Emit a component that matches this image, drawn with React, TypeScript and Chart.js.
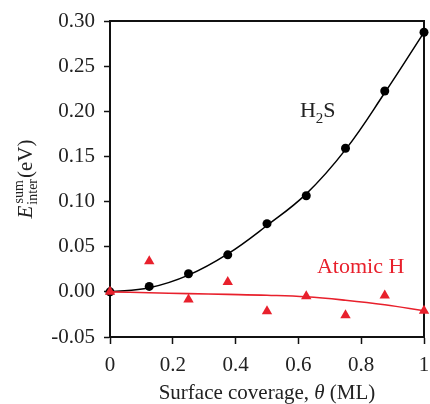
import React, { useEffect, useRef } from 'react';
import { Chart, registerables } from 'chart.js';

Chart.register(...registerables);

// ---- data ----
const coverage = [0, 0.125, 0.25, 0.375, 0.5, 0.625, 0.75, 0.875, 1];
const h2sValues = [0, 0.006, 0.02, 0.041, 0.0755, 0.1065, 0.159, 0.2225, 0.2875];
const h2sFit = [0, 0.0045, 0.0185, 0.042, 0.0735, 0.1085, 0.1575, 0.2205, 0.2875];
const atomicHValues = [0, 0.034, -0.0085, 0.011, -0.0215, -0.005, -0.026, -0.004, -0.021];
const atomicHFit = [0, -0.001, -0.002, -0.0028, -0.0038, -0.0055, -0.0093, -0.0143, -0.021];

const xTickValues = [0, 0.2, 0.4, 0.6, 0.8, 1];
const xTickLabels = ['0', '0.2', '0.4', '0.6', '0.8', '1'];
const yTickValues = [-0.05, 0, 0.05, 0.1, 0.15, 0.2, 0.25, 0.3];
const yTickLabels = ['-0.05', '0.00', '0.05', '0.10', '0.15', '0.20', '0.25', '0.30'];

const h2sLabelPos = { x: 0.605, y: 0.194 };
const atomicHLabelPos = { x: 0.659, y: 0.0214 };

const RED = '#e8202c';
const FONT = '"Liberation Serif", "DejaVu Serif", serif';

const toPts = (xs: number[], ys: number[]) => xs.map((x, i) => ({ x, y: ys[i] }));

const zeroPad = (s: any) => {
  s.paddingLeft = 0;
  s.paddingRight = 0;
  s.paddingTop = 0;
  s.paddingBottom = 0;
};

const decorPlugin = {
  id: 'decor',
  beforeDatasetsDraw(chart: any) {
    const { ctx, chartArea: a } = chart;
    ctx.save();
    ctx.strokeStyle = '#111';
    ctx.lineWidth = 2;
    ctx.beginPath();
    ctx.moveTo(a.left, a.top);
    ctx.lineTo(a.right, a.top);
    ctx.lineTo(a.right, a.bottom);
    ctx.stroke();
    ctx.restore();
  },
  afterDraw(chart: any) {
    const { ctx, chartArea: a, scales } = chart;
    const xs = scales.x;
    const ys = scales.y;
    ctx.save();
    ctx.textBaseline = 'alphabetic';
    ctx.textAlign = 'left';

    // H2S label
    let px = xs.getPixelForValue(h2sLabelPos.x);
    let py = ys.getPixelForValue(h2sLabelPos.y);
    ctx.fillStyle = '#222';
    ctx.font = `22px ${FONT}`;
    ctx.fillText('H', px, py);
    px += ctx.measureText('H').width;
    ctx.font = `15px ${FONT}`;
    ctx.fillText('2', px, py + 6);
    px += ctx.measureText('2').width;
    ctx.font = `22px ${FONT}`;
    ctx.fillText('S', px, py);

    // Atomic H label
    px = xs.getPixelForValue(atomicHLabelPos.x);
    py = ys.getPixelForValue(atomicHLabelPos.y);
    ctx.fillStyle = RED;
    ctx.font = `22px ${FONT}`;
    ctx.fillText('Atomic H', px, py);

    // X axis title
    ctx.fillStyle = '#222';
    const p1 = 'Surface coverage, ';
    const p2 = '\u03b8';
    const p3 = ' (ML)';
    ctx.font = `21px ${FONT}`;
    const w1 = ctx.measureText(p1).width;
    const w3 = ctx.measureText(p3).width;
    ctx.font = `italic 21px ${FONT}`;
    const w2 = ctx.measureText(p2).width;
    const total = w1 + w2 + w3;
    let tx = (a.left + a.right) / 2 - total / 2;
    const ty = 399;
    ctx.font = `21px ${FONT}`;
    ctx.fillText(p1, tx, ty);
    tx += w1;
    ctx.font = `italic 21px ${FONT}`;
    ctx.fillText(p2, tx, ty);
    tx += w2;
    ctx.font = `21px ${FONT}`;
    ctx.fillText(p3, tx, ty);

    // Y axis title (rotated)
    ctx.translate(32, (a.top + a.bottom) / 2);
    ctx.rotate(-Math.PI / 2);
    ctx.font = `italic 21px ${FONT}`;
    const wE = ctx.measureText('E').width;
    ctx.font = `14px ${FONT}`;
    const wSum = ctx.measureText('sum').width;
    const wInter = ctx.measureText('inter').width;
    const wScript = Math.max(wSum, wInter);
    ctx.font = `21px ${FONT}`;
    const wEv = ctx.measureText('(eV)').width;
    const tot = wE + 1 + wScript + 1 + wEv;
    let rx = -tot / 2;
    ctx.font = `italic 21px ${FONT}`;
    ctx.fillText('E', rx, 0);
    rx += wE + 1;
    ctx.font = `14px ${FONT}`;
    ctx.fillText('sum', rx + (wScript - wSum) / 2, -9);
    ctx.fillText('inter', rx, 5);
    rx += wScript + 1;
    ctx.font = `21px ${FONT}`;
    ctx.fillText('(eV)', rx, 0);
    ctx.restore();
  },
};

export default function App() {
  const ref = useRef<HTMLCanvasElement | null>(null);

  useEffect(() => {
    if (!ref.current) return;
    const chart = new Chart(ref.current, {
      type: 'scatter',
      data: {
        datasets: [
          {
            label: 'Atomic H',
            data: toPts(coverage, atomicHValues),
            pointStyle: 'triangle',
            pointRadius: 6,
            pointBackgroundColor: RED,
            pointBorderColor: RED,
            pointBorderWidth: 0,
            showLine: false,
            clip: false,
          } as any,
          {
            label: 'Atomic H fit',
            data: toPts(coverage, atomicHFit),
            showLine: true,
            borderColor: RED,
            borderWidth: 1.6,
            pointRadius: 0,
            tension: 0.4,
            clip: false,
          } as any,
          {
            label: 'H2S',
            data: toPts(coverage, h2sValues),
            pointStyle: 'circle',
            pointRadius: 4.5,
            pointBackgroundColor: '#000',
            pointBorderColor: '#000',
            pointBorderWidth: 0,
            showLine: false,
            clip: false,
          } as any,
          {
            label: 'H2S fit',
            data: toPts(coverage, h2sFit),
            showLine: true,
            borderColor: '#000',
            borderWidth: 1.5,
            pointRadius: 0,
            tension: 0.4,
            clip: false,
          } as any,
        ],
      },
      options: {
        animation: false,
        responsive: false,
        layout: { padding: { top: 21, right: 5, left: 0, bottom: 0 } },
        plugins: {
          legend: { display: false },
          tooltip: { enabled: false },
          title: { display: false },
        },
        scales: {
          x: {
            type: 'linear',
            min: 0,
            max: 1,
            afterFit: (s: any) => {
              s.height = 67;
              zeroPad(s);
            },
            afterBuildTicks: (s: any) => {
              s.ticks = xTickValues.map((v) => ({ value: v }));
            },
            ticks: {
              color: '#222',
              font: { family: FONT, size: 21 },
              padding: 9,
              maxRotation: 0,
              autoSkip: false,
              callback: (v: any) => {
                const i = xTickValues.findIndex((t) => Math.abs(t - v) < 1e-9);
                return i >= 0 ? xTickLabels[i] : '';
              },
            },
            grid: {
              display: true,
              drawOnChartArea: false,
              drawTicks: true,
              tickLength: 7,
              tickColor: '#111',
              tickWidth: 1.5,
            },
            border: { display: true, color: '#111', width: 2 },
          },
          y: {
            type: 'linear',
            min: -0.05,
            max: 0.3,
            afterFit: (s: any) => {
              s.width = 110;
              zeroPad(s);
            },
            afterBuildTicks: (s: any) => {
              s.ticks = yTickValues.map((v) => ({ value: v }));
            },
            ticks: {
              color: '#222',
              font: { family: FONT, size: 21 },
              padding: 9,
              autoSkip: false,
              callback: (v: any) => {
                const i = yTickValues.findIndex((t) => Math.abs(t - v) < 1e-9);
                return i >= 0 ? yTickLabels[i] : '';
              },
            },
            grid: {
              display: true,
              drawOnChartArea: false,
              drawTicks: true,
              tickLength: 6,
              tickColor: '#111',
              tickWidth: 1.5,
            },
            border: { display: true, color: '#111', width: 2 },
          },
        },
      },
      plugins: [decorPlugin],
    });
    return () => chart.destroy();
  }, []);

  return (
    <div style={{ position: 'absolute', left: 0, top: 0, width: 430, height: 404, background: '#fff' }}>
      <canvas ref={ref} width={430} height={404} style={{ display: 'block' }} />
    </div>
  );
}
